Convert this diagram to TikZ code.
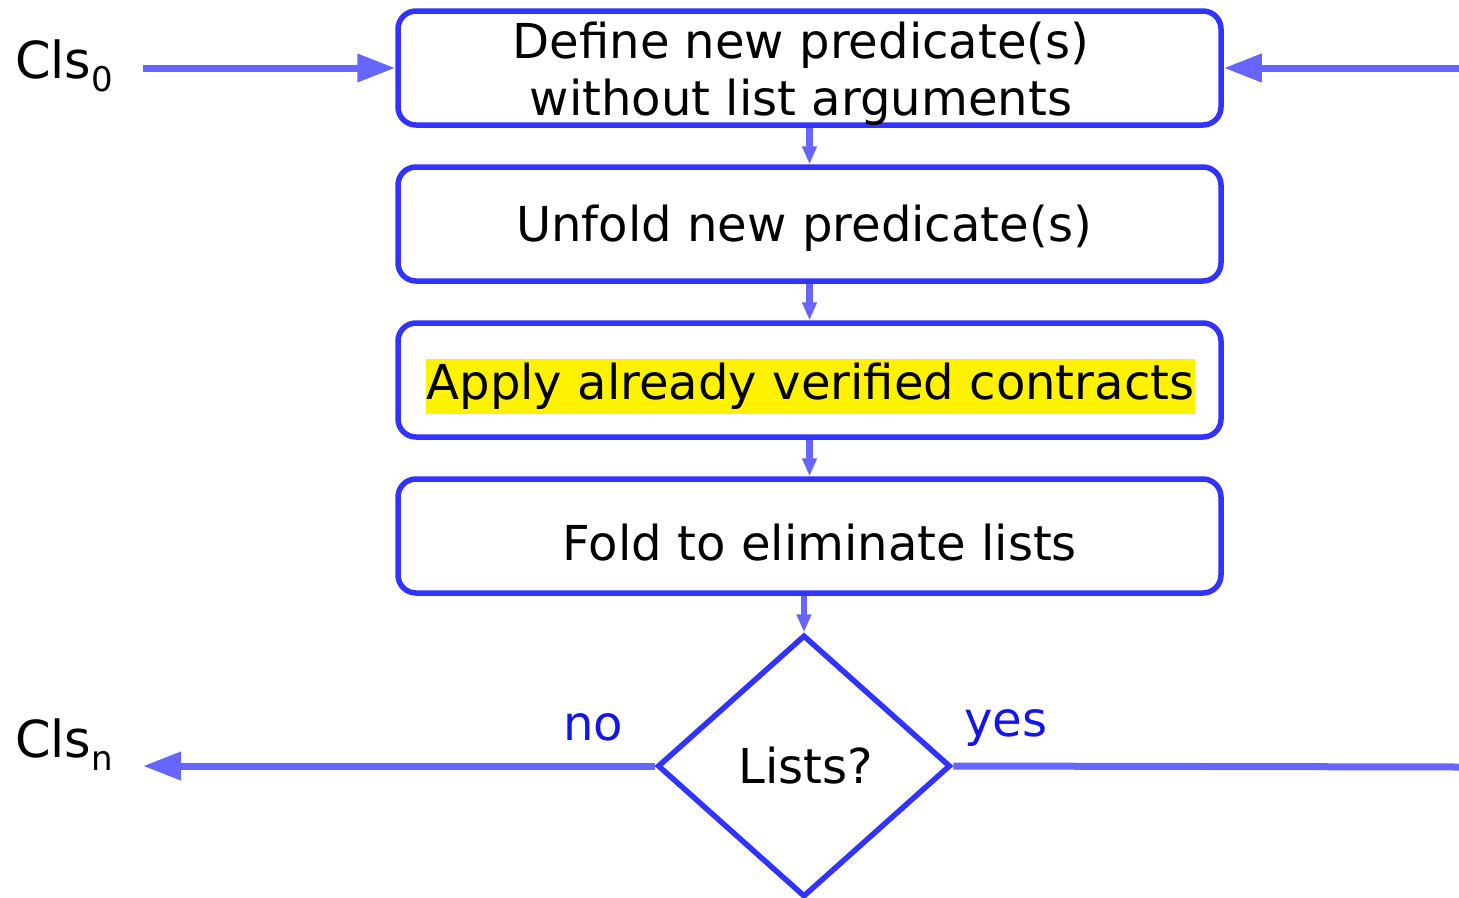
\documentclass[tikz,border=0pt]{standalone}
\usepackage{fontspec}
\setmainfont{DejaVu Sans}
\usetikzlibrary{shapes.geometric,arrows.meta}
\definecolor{boxblue}{RGB}{51,51,255}
\definecolor{arrowblue}{RGB}{102,102,255}
\definecolor{labelblue}{RGB}{20,20,235}
\newcommand{\clssub}[1]{\raisebox{-13pt}{\fontsize{34}{34}\selectfont #1}}
\begin{document}
\begin{tikzpicture}[x=1pt,y=-1pt,
  stepbox/.style={draw=boxblue,line width=5.5pt,rounded corners=18pt,minimum width=823pt,minimum height=114pt,inner sep=0pt},
  txt/.style={font=\fontsize{48.1}{57}\selectfont,inner sep=0pt,align=center},
  clstxt/.style={font=\fontsize{51}{57}\selectfont,inner sep=0pt,anchor=base west},
  lbl/.style={txt,text=labelblue},
  bigarrow/.style={draw=arrowblue,line width=7pt,-{Triangle[length=38pt,width=27pt]}},
  smallarrow/.style={draw=arrowblue,line width=6.5pt,-{Triangle[length=18pt,width=14pt]}},
  plainline/.style={draw=arrowblue,line width=7pt}]
\useasboundingbox (0,0) rectangle (1459,897);
% boxes
\node[stepbox] (b1) at (809.5,68) {};
\node[stepbox] (b2) at (809.5,224) {};
\node[stepbox] (b3) at (809.5,380) {};
\node[stepbox] (b4) at (809.5,536) {};
\node[draw=boxblue,line width=5.5pt,diamond,minimum width=293pt,minimum height=262pt,inner sep=0pt] (d) at (804,766) {};
% texts
\node[txt] (t1) at (801,74) {Define new predicate(s)\\without list arguments};
\node[txt] (t2) at (804,228) {Unfold new predicate(s)};
\node[txt,fill=yellow,minimum height=55pt,inner xsep=1pt] (t3) at (810.5,386) {Apply already verified contracts};
\node[txt] (t4) at (820,543) {Fold to eliminate lists};
\node[txt] (t5) at (806,766) {Lists?};
\node[clstxt] (c0) at (15,78) {Cls\clssub{0}};
\node[clstxt] (cn) at (15,757) {Cls\clssub{n}};
\node[lbl] (no) at (593,727) {no};
\node[lbl] (yes) at (1006,728) {yes};
% connector anchors
\coordinate (c0e) at (143,68);
\coordinate (re) at (1459,68);
\coordinate (cne) at (143,766);
\coordinate (rb) at (1459,767);
% connectors
\draw[bigarrow] (c0e) -- (b1.west);
\draw[bigarrow] (re) -- (b1.east);
\draw[smallarrow] (b1.south) -- (b2.north);
\draw[smallarrow] (b2.south) -- (b3.north);
\draw[smallarrow] (b3.south) -- (b4.north);
\draw[smallarrow] (b4.south -| d.north) -- (d.north);
\draw[bigarrow] (d.west) -- (cne);
\draw[plainline] (rb) -- (d.east);
\end{tikzpicture}
\end{document}
